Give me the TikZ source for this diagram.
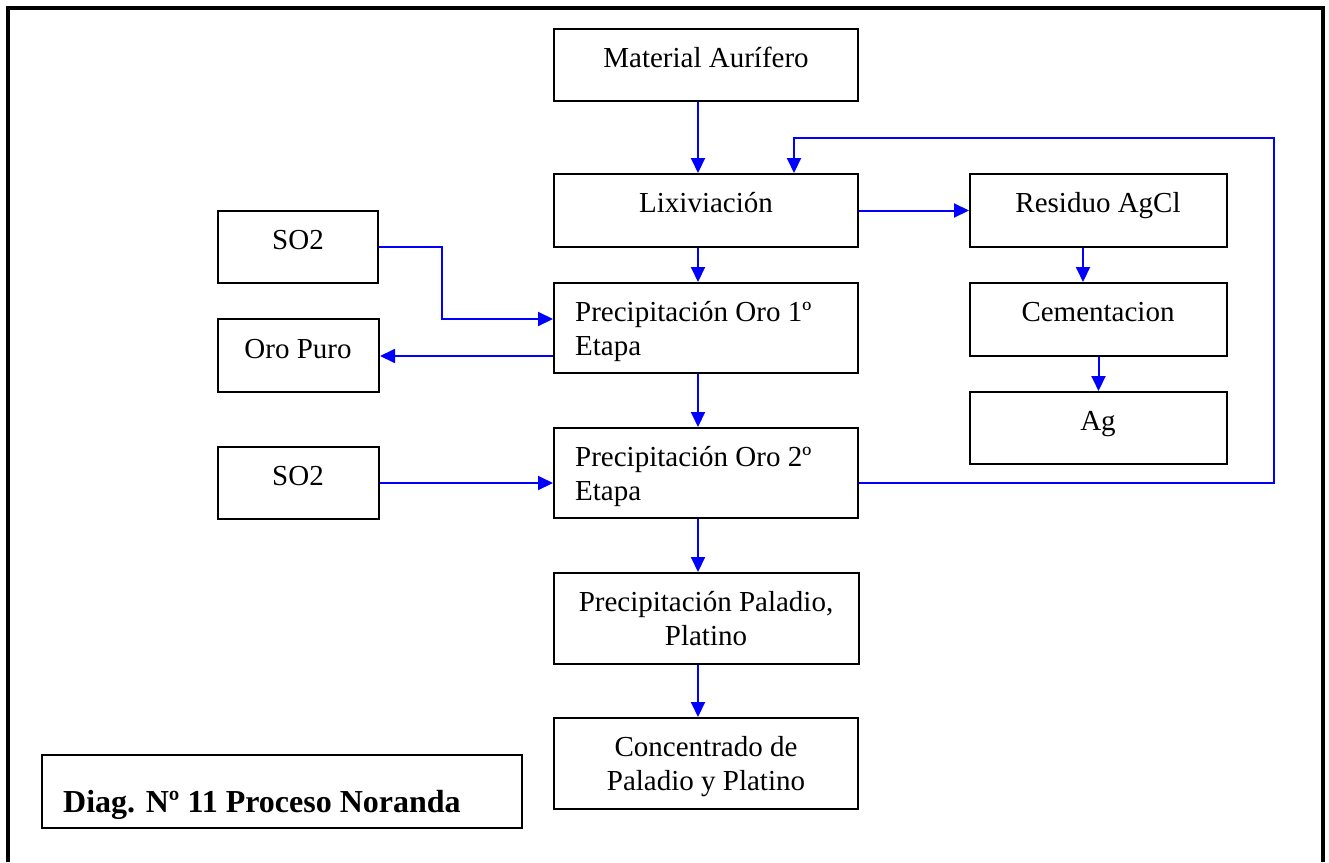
\documentclass[tikz,border=0pt]{standalone}
\usepackage{fontspec}
\setmainfont{Liberation Serif}
\usetikzlibrary{arrows.meta,calc}

\tikzset{
  box/.style={draw=black, line width=2pt, inner sep=0pt, fill=white},
  lbl/.style={inner sep=0pt, anchor=base, font=\fontsize{29}{34}\selectfont},
  lbll/.style={inner sep=0pt, anchor=base west, font=\fontsize{29}{34}\selectfont},
  flow/.style={draw=blue, line width=2pt, -{Triangle[length=15pt,width=14pt]}},
  thinflow/.style={draw=blue, line width=1.3pt},
}

\begin{document}
\begin{tikzpicture}[x=1pt, y=-1pt]
\useasboundingbox (0,0) rectangle (1329,862);

% outer frame (open at the bottom)
\draw[line width=4.5pt] (8,862) -- (8,8) -- (1323,8) -- (1323,862);

% process boxes
\node[box, minimum width=304pt, minimum height=72pt] (mat)  at (706,65)    {};
\node[box, minimum width=304pt, minimum height=73pt] (lix)  at (706,210.5) {};
\node[box, minimum width=257pt, minimum height=73pt] (res)  at (1098.5,210.5) {};
\node[box, minimum width=257pt, minimum height=73pt] (cem)  at (1098.5,319.5) {};
\node[box, minimum width=257pt, minimum height=72pt] (ag)   at (1098.5,428) {};
\node[box, minimum width=160pt, minimum height=72pt] (so2a) at (298,247)   {};
\node[box, minimum width=161pt, minimum height=73pt] (oro)  at (298.5,355.5) {};
\node[box, minimum width=304pt, minimum height=90pt] (p1)   at (706,328)   {};
\node[box, minimum width=161pt, minimum height=72pt] (so2b) at (298.5,483) {};
\node[box, minimum width=304pt, minimum height=90pt] (p2)   at (706,473)   {};
\node[box, minimum width=305pt, minimum height=91pt] (pal)  at (706.5,618.5) {};
\node[box, minimum width=304pt, minimum height=91pt] (con)  at (706,763.5) {};
\node[box, minimum width=480pt, minimum height=73pt] (diag) at (282,791.5) {};

% box texts
\node[lbl] at (706,67)    {Material Aurífero};
\node[lbl] at (706,212)   {Lixiviación};
\node[lbl] at (1098,212)  {Residuo AgCl};
\node[lbl] at (1098,321)  {Cementacion};
\node[lbl] at (1098,430)  {Ag};
\node[lbl] at (298,249)   {SO2};
\node[lbl] at (298,358)   {Oro Puro};
\node[lbll] at (575,321)  {Precipitación Oro 1º};
\node[lbll] at (575,355)  {Etapa};
\node[lbl] at (298,485)   {SO2};
\node[lbll] at (575,466)  {Precipitación Oro 2º};
\node[lbll] at (575,500)  {Etapa};
\node[lbl] at (706,611)   {Precipitación Paladio,};
\node[lbl] at (706,645)   {Platino};
\node[lbl] at (706,756)   {Concentrado de};
\node[lbl] at (706,790)   {Paladio y Platino};
\node[inner sep=0pt, anchor=base west, font=\bfseries\fontsize{32}{38}\selectfont]
  at (63,812) {Diag. Nº 11 Proceso Noranda};

% main column
\draw[flow] ($(mat.south)+(-8,0)$) -- ($(lix.north)+(-8,0)$);
\draw[flow] ($(lix.south)+(-8,0)$) -- ($(p1.north)+(-8,0)$);
\draw[flow] ($(p1.south)+(-8,0)$)  -- ($(p2.north)+(-8,0)$);
\draw[flow] ($(p2.south)+(-8,0)$)  -- ($(pal.north)+(-8.5,0)$);
\draw[flow] ($(pal.south)+(-8.5,0)$) -- ($(con.north)+(-8,0)$);

% silver branch
\draw[flow] (lix.east) -- (res.west);
\draw[flow] ($(res.south)+(-15.5,0)$) -- ($(cem.north)+(-15.5,0)$);
\draw[flow] (cem.south) -- (ag.north);

% reagent and product streams
\coordinate (j1) at (442,283);
\draw[thinflow] (so2a.east) -| (j1);
\draw[flow] (j1) |- ($(p1.west)+(0,-9)$);
\coordinate (p1o) at ($(p1.west)+(0,28)$);
\draw[flow] (p1o) -- (p1o -| oro.east);
\draw[flow] (so2b.east) -- (so2b.east -| p2.west);

% recycle loop back to leaching
\coordinate (fb) at (1274,138);
\draw[thinflow] ($(p2.east)+(0,10)$) -| (fb) -| ($(lix.north)+(88,-20)$);
\draw[flow] ($(lix.north)+(88,-20)$) -- ($(lix.north)+(88,0)$);
\end{tikzpicture}
\end{document}
